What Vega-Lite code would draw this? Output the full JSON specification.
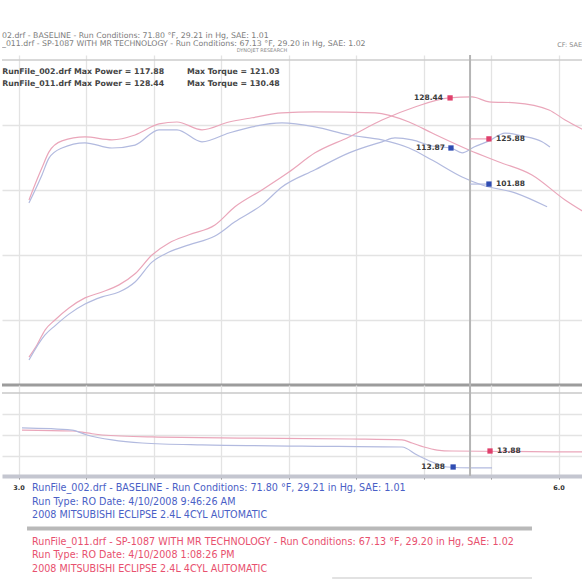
{
  "$schema": "https://vega.github.io/schema/vega-lite/v6.json",
  "background": "white",
  "padding": 0,
  "spacing": 0,
  "bounds": "flush",
  "config": {"view": {"stroke": null}, "font": "DejaVu Sans", "text": {"font": "DejaVu Sans"}},
  "datasets": {
    "header": [
      {"x": 2.906, "row": 0.8, "t": "02.drf - BASELINE - Run Conditions: 71.80 °F, 29.21 in Hg, SAE: 1.01"},
      {"x": 2.906, "row": 2.15, "t": "_011.drf - SP-1087 WITH MR TECHNOLOGY - Run Conditions: 67.13 °F, 29.20 in Hg, SAE: 1.02"}
    ],
    "headerCenter": [{"x": 4.35, "row": 3.05, "t": "DYNOJET RESEARCH"}],
    "headerRight": [{"x": 6.128, "row": 2.3, "t": "CF: SAE"}],
    "dyno": [
      {"rpm": 3.056, "v": 96.9, "s": "SP-1087 torque"}, {"rpm": 3.1, "v": 103.1, "s": "SP-1087 torque"}, {"rpm": 3.128, "v": 106.8, "s": "SP-1087 torque"}, {"rpm": 3.167, "v": 111.7, "s": "SP-1087 torque"}, {"rpm": 3.239, "v": 115.1, "s": "SP-1087 torque"}, {"rpm": 3.367, "v": 116.3, "s": "SP-1087 torque"}, {"rpm": 3.517, "v": 115.4, "s": "SP-1087 torque"}, {"rpm": 3.645, "v": 116.9, "s": "SP-1087 torque"}, {"rpm": 3.778, "v": 120.3, "s": "SP-1087 torque"}, {"rpm": 3.878, "v": 120.9, "s": "SP-1087 torque"}, {"rpm": 4.017, "v": 118.5, "s": "SP-1087 torque"}, {"rpm": 4.167, "v": 120.9, "s": "SP-1087 torque"}, {"rpm": 4.295, "v": 122.2, "s": "SP-1087 torque"}, {"rpm": 4.461, "v": 123.7, "s": "SP-1087 torque"}, {"rpm": 4.645, "v": 124.0, "s": "SP-1087 torque"}, {"rpm": 4.978, "v": 123.7, "s": "SP-1087 torque"}, {"rpm": 5.167, "v": 120.9, "s": "SP-1087 torque"}, {"rpm": 5.295, "v": 117.5, "s": "SP-1087 torque"}, {"rpm": 5.5, "v": 112.3, "s": "SP-1087 torque"}, {"rpm": 5.667, "v": 108.6, "s": "SP-1087 torque"}, {"rpm": 5.85, "v": 104.6, "s": "SP-1087 torque"}, {"rpm": 6.034, "v": 96.9, "s": "SP-1087 torque"}, {"rpm": 6.139, "v": 93.2, "s": "SP-1087 torque"},
      {"rpm": 3.056, "v": 96.0, "s": "Baseline torque"}, {"rpm": 3.128, "v": 104.6, "s": "Baseline torque"}, {"rpm": 3.167, "v": 109.8, "s": "Baseline torque"}, {"rpm": 3.239, "v": 112.9, "s": "Baseline torque"}, {"rpm": 3.367, "v": 114.5, "s": "Baseline torque"}, {"rpm": 3.517, "v": 112.9, "s": "Baseline torque"}, {"rpm": 3.645, "v": 113.8, "s": "Baseline torque"}, {"rpm": 3.778, "v": 118.5, "s": "Baseline torque"}, {"rpm": 3.878, "v": 118.5, "s": "Baseline torque"}, {"rpm": 4.017, "v": 114.8, "s": "Baseline torque"}, {"rpm": 4.167, "v": 117.5, "s": "Baseline torque"}, {"rpm": 4.295, "v": 119.4, "s": "Baseline torque"}, {"rpm": 4.461, "v": 120.6, "s": "Baseline torque"}, {"rpm": 4.645, "v": 119.4, "s": "Baseline torque"}, {"rpm": 4.834, "v": 116.9, "s": "Baseline torque"}, {"rpm": 5.017, "v": 115.4, "s": "Baseline torque"}, {"rpm": 5.167, "v": 112.9, "s": "Baseline torque"}, {"rpm": 5.295, "v": 109.2, "s": "Baseline torque"}, {"rpm": 5.462, "v": 104.0, "s": "Baseline torque"}, {"rpm": 5.573, "v": 101.5, "s": "Baseline torque"}, {"rpm": 5.756, "v": 99.1, "s": "Baseline torque"}, {"rpm": 5.934, "v": 94.8, "s": "Baseline torque"},
      {"rpm": 3.056, "v": 48.6, "s": "SP-1087 power"}, {"rpm": 3.1, "v": 52.3, "s": "SP-1087 power"}, {"rpm": 3.145, "v": 56.9, "s": "SP-1087 power"}, {"rpm": 3.2, "v": 60.0, "s": "SP-1087 power"}, {"rpm": 3.278, "v": 63.7, "s": "SP-1087 power"}, {"rpm": 3.367, "v": 66.8, "s": "SP-1087 power"}, {"rpm": 3.462, "v": 68.6, "s": "SP-1087 power"}, {"rpm": 3.556, "v": 70.8, "s": "SP-1087 power"}, {"rpm": 3.645, "v": 74.2, "s": "SP-1087 power"}, {"rpm": 3.739, "v": 80.0, "s": "SP-1087 power"}, {"rpm": 3.834, "v": 83.7, "s": "SP-1087 power"}, {"rpm": 3.945, "v": 86.2, "s": "SP-1087 power"}, {"rpm": 4.089, "v": 89.2, "s": "SP-1087 power"}, {"rpm": 4.2, "v": 94.8, "s": "SP-1087 power"}, {"rpm": 4.35, "v": 100.0, "s": "SP-1087 power"}, {"rpm": 4.5, "v": 105.5, "s": "SP-1087 power"}, {"rpm": 4.645, "v": 111.4, "s": "SP-1087 power"}, {"rpm": 4.834, "v": 116.3, "s": "SP-1087 power"}, {"rpm": 5.017, "v": 121.5, "s": "SP-1087 power"}, {"rpm": 5.2, "v": 125.5, "s": "SP-1087 power"}, {"rpm": 5.389, "v": 128.3, "s": "SP-1087 power"}, {"rpm": 5.517, "v": 128.6, "s": "SP-1087 power"}, {"rpm": 5.612, "v": 127.1, "s": "SP-1087 power"}, {"rpm": 5.756, "v": 126.8, "s": "SP-1087 power"}, {"rpm": 5.945, "v": 124.6, "s": "SP-1087 power"}, {"rpm": 6.034, "v": 121.5, "s": "SP-1087 power"}, {"rpm": 6.139, "v": 118.4, "s": "SP-1087 power"},
      {"rpm": 3.056, "v": 47.7, "s": "Baseline power"}, {"rpm": 3.145, "v": 55.4, "s": "Baseline power"}, {"rpm": 3.2, "v": 58.2, "s": "Baseline power"}, {"rpm": 3.278, "v": 61.8, "s": "Baseline power"}, {"rpm": 3.367, "v": 64.9, "s": "Baseline power"}, {"rpm": 3.462, "v": 67.1, "s": "Baseline power"}, {"rpm": 3.556, "v": 68.6, "s": "Baseline power"}, {"rpm": 3.645, "v": 71.7, "s": "Baseline power"}, {"rpm": 3.739, "v": 77.8, "s": "Baseline power"}, {"rpm": 3.834, "v": 80.9, "s": "Baseline power"}, {"rpm": 3.945, "v": 83.1, "s": "Baseline power"}, {"rpm": 4.089, "v": 85.8, "s": "Baseline power"}, {"rpm": 4.2, "v": 90.2, "s": "Baseline power"}, {"rpm": 4.35, "v": 95.4, "s": "Baseline power"}, {"rpm": 4.461, "v": 100.9, "s": "Baseline power"}, {"rpm": 4.645, "v": 106.2, "s": "Baseline power"}, {"rpm": 4.834, "v": 111.4, "s": "Baseline power"}, {"rpm": 5.017, "v": 114.8, "s": "Baseline power"}, {"rpm": 5.089, "v": 116.0, "s": "Baseline power"}, {"rpm": 5.184, "v": 115.4, "s": "Baseline power"}, {"rpm": 5.295, "v": 113.5, "s": "Baseline power"}, {"rpm": 5.4, "v": 112.9, "s": "Baseline power"}, {"rpm": 5.462, "v": 111.4, "s": "Baseline power"}, {"rpm": 5.528, "v": 113.2, "s": "Baseline power"}, {"rpm": 5.612, "v": 115.1, "s": "Baseline power"}, {"rpm": 5.7, "v": 117.5, "s": "Baseline power"}, {"rpm": 5.795, "v": 116.6, "s": "Baseline power"}, {"rpm": 5.906, "v": 114.8, "s": "Baseline power"}, {"rpm": 5.95, "v": 113.2, "s": "Baseline power"}
    ],
    "conn": [
      {"rpm": 5.506, "rpm2": 5.6, "v": 115.7, "s": "SP-1087 torque"},
      {"rpm": 5.506, "rpm2": 5.6, "v": 101.8, "s": "Baseline torque"}
    ],
    "ann": [
      {"rpm": 5.395, "lx": 5.356, "v": 128.3, "label": "128.44", "run": "SP-1087", "side": "left"},
      {"rpm": 5.4, "lx": 5.367, "v": 112.9, "label": "113.87", "run": "Baseline", "side": "left"},
      {"rpm": 5.611, "lx": 5.65, "v": 115.7, "label": "125.88", "run": "SP-1087", "side": "right"},
      {"rpm": 5.611, "lx": 5.65, "v": 101.8, "label": "101.88", "run": "Baseline", "side": "right"}
    ],
    "legendText": [
      {"x": 2.907, "v": 136.3, "t": "RunFile_002.drf Max Power = 117.88"},
      {"x": 3.934, "v": 136.3, "t": "Max Torque = 121.03"},
      {"x": 2.907, "v": 132.6, "t": "RunFile_011.drf Max Power = 128.44"},
      {"x": 3.934, "v": 132.6, "t": "Max Torque = 130.48"}
    ],
    "afr": [
      {"rpm": 3.017, "a": 15.19, "s": "SP-1087"}, {"rpm": 3.295, "a": 15.13, "s": "SP-1087"}, {"rpm": 3.378, "a": 15.01, "s": "SP-1087"}, {"rpm": 3.462, "a": 14.88, "s": "SP-1087"}, {"rpm": 3.739, "a": 14.76, "s": "SP-1087"}, {"rpm": 4.295, "a": 14.69, "s": "SP-1087"}, {"rpm": 4.85, "a": 14.63, "s": "SP-1087"}, {"rpm": 5.128, "a": 14.57, "s": "SP-1087"}, {"rpm": 5.184, "a": 14.38, "s": "SP-1087"}, {"rpm": 5.25, "a": 14.13, "s": "SP-1087"}, {"rpm": 5.323, "a": 13.94, "s": "SP-1087"}, {"rpm": 5.406, "a": 13.88, "s": "SP-1087"}, {"rpm": 6.139, "a": 13.82, "s": "SP-1087"},
      {"rpm": 3.017, "a": 15.32, "s": "Baseline"}, {"rpm": 3.295, "a": 15.19, "s": "Baseline"}, {"rpm": 3.378, "a": 14.88, "s": "Baseline"}, {"rpm": 3.517, "a": 14.57, "s": "Baseline"}, {"rpm": 3.684, "a": 14.38, "s": "Baseline"}, {"rpm": 4.017, "a": 14.26, "s": "Baseline"}, {"rpm": 4.573, "a": 14.19, "s": "Baseline"}, {"rpm": 5.128, "a": 14.13, "s": "Baseline"}, {"rpm": 5.212, "a": 13.63, "s": "Baseline"}, {"rpm": 5.295, "a": 13.19, "s": "Baseline"}, {"rpm": 5.378, "a": 12.88, "s": "Baseline"}, {"rpm": 5.517, "a": 12.82, "s": "Baseline"}, {"rpm": 5.628, "a": 12.82, "s": "Baseline"}
    ],
    "afrAnn": [
      {"rpm": 5.617, "lx": 5.656, "a": 13.88, "label": "13.88", "run": "SP-1087", "side": "right"},
      {"rpm": 5.412, "lx": 5.367, "a": 12.88, "label": "12.88", "run": "Baseline", "side": "left"}
    ],
    "footer": [
      {"x": 3.073, "row": 1, "run": "Baseline", "t": "RunFile_002.drf - BASELINE - Run Conditions: 71.80 °F, 29.21 in Hg, SAE: 1.01"},
      {"x": 3.073, "row": 2, "run": "Baseline", "t": "Run Type: RO  Date: 4/10/2008 9:46:26 AM"},
      {"x": 3.073, "row": 3, "run": "Baseline", "t": "2008 MITSUBISHI ECLIPSE 2.4L 4CYL AUTOMATIC"},
      {"x": 3.073, "row": 5, "run": "SP-1087", "t": "RunFile_011.drf - SP-1087 WITH MR TECHNOLOGY - Run Conditions: 67.13 °F, 29.20 in Hg, SAE: 1.02"},
      {"x": 3.073, "row": 6, "run": "SP-1087", "t": "Run Type: RO  Date: 4/10/2008 1:08:26 PM"},
      {"x": 3.073, "row": 7, "run": "SP-1087", "t": "2008 MITSUBISHI ECLIPSE 2.4L 4CYL AUTOMATIC"}
    ],
    "xlabels": [{"x": 3.0, "row": 1, "t": "3.0"}, {"x": 6.0, "row": 1, "t": "6.0"}],
    "sep": [{"x": 3.045, "x2": 5.85, "row": 4, "w": "thick"}, {"x": 4.74, "x2": 5.85, "row": 7.67, "w": "thin"}]
  },
  "vconcat": [
    {
      "width": 582, "height": 55,
      "encoding": {
        "x": {"field": "x", "type": "quantitative", "scale": {"domain": [2.906, 6.139], "nice": false, "zero": false}, "axis": null},
        "y": {"field": "row", "type": "quantitative", "scale": {"domain": [-4.692, 3.769], "reverse": true, "nice": false, "zero": false}, "axis": null},
        "text": {"field": "t"}
      },
      "layer": [
        {"data": {"name": "header"}, "mark": {"type": "text", "clip": true, "align": "left", "baseline": "middle", "fontSize": 7.8, "color": "#7d7d7d"}},
        {"data": {"name": "headerCenter"}, "mark": {"type": "text", "align": "center", "baseline": "middle", "fontSize": 5, "color": "#8a8a8a"}},
        {"data": {"name": "headerRight"}, "mark": {"type": "text", "align": "right", "baseline": "middle", "fontSize": 6.5, "color": "#8a8a8a"}}
      ]
    },
    {
      "width": 582, "height": 330,
      "layer": [
        {
          "data": {"name": "dyno"},
          "mark": {"type": "line", "strokeWidth": 1.2, "interpolate": "monotone"},
          "encoding": {
            "x": {"field": "rpm", "type": "quantitative", "scale": {"domain": [2.906, 6.139], "nice": false, "zero": false},
                  "axis": {"values": [3, 3.375, 3.75, 4.125, 4.5, 4.875, 5.25, 5.625, 6], "grid": true, "gridColor": "#e3e3e3", "gridWidth": 1.3, "labels": false, "ticks": false, "domain": false, "title": null}},
            "y": {"field": "v", "type": "quantitative", "scale": {"domain": [40, 141.5], "nice": false, "zero": false},
                  "axis": {"values": [60, 80, 100, 120], "grid": true, "gridColor": "#e3e3e3", "gridWidth": 1.3, "labels": false, "ticks": false, "domain": false, "title": null}},
            "color": {"field": "s", "type": "nominal", "scale": {"domain": ["SP-1087 torque", "Baseline torque", "SP-1087 power", "Baseline power"], "range": ["#eaa6ba", "#b2badf", "#eaa6ba", "#b2badf"]}, "legend": null}
          }
        },
        {"data": {"values": [{}]}, "mark": {"type": "rule", "color": "#cdcdcd", "strokeWidth": 1.5}, "encoding": {"y": {"datum": 140}}},
        {"data": {"values": [{}]}, "mark": {"type": "rule", "color": "#9c9c9c", "strokeWidth": 3}, "encoding": {"y": {"datum": 40}}},
        {"data": {"values": [{}]}, "mark": {"type": "rule", "color": "#b5b5b5", "strokeWidth": 2}, "encoding": {"x": {"datum": 5.506}}},
        {
          "data": {"name": "conn"},
          "mark": {"type": "rule", "strokeWidth": 1.2},
          "encoding": {"x": {"field": "rpm", "type": "quantitative"}, "x2": {"field": "rpm2"}, "y": {"field": "v", "type": "quantitative"}, "color": {"field": "s", "type": "nominal"}}
        },
        {
          "data": {"name": "ann"}, "transform": [{"filter": "datum.run == 'SP-1087'"}],
          "mark": {"type": "point", "shape": "square", "filled": true, "size": 28, "color": "#e0406c", "opacity": 1},
          "encoding": {"x": {"field": "rpm", "type": "quantitative"}, "y": {"field": "v", "type": "quantitative"}}
        },
        {
          "data": {"name": "ann"}, "transform": [{"filter": "datum.run == 'Baseline'"}],
          "mark": {"type": "point", "shape": "square", "filled": true, "size": 28, "color": "#2f4cb2", "opacity": 1},
          "encoding": {"x": {"field": "rpm", "type": "quantitative"}, "y": {"field": "v", "type": "quantitative"}}
        },
        {
          "data": {"name": "ann"}, "transform": [{"filter": "datum.side == 'left'"}],
          "mark": {"type": "text", "align": "right", "baseline": "middle", "fontSize": 7.5, "fontWeight": "bold", "color": "#3a3a3a"},
          "encoding": {"x": {"field": "lx", "type": "quantitative"}, "y": {"field": "v", "type": "quantitative"}, "text": {"field": "label"}}
        },
        {
          "data": {"name": "ann"}, "transform": [{"filter": "datum.side == 'right'"}],
          "mark": {"type": "text", "align": "left", "baseline": "middle", "fontSize": 7.5, "fontWeight": "bold", "color": "#3a3a3a"},
          "encoding": {"x": {"field": "lx", "type": "quantitative"}, "y": {"field": "v", "type": "quantitative"}, "text": {"field": "label"}}
        },
        {
          "data": {"name": "legendText"},
          "mark": {"type": "text", "align": "left", "baseline": "middle", "fontSize": 7.8, "fontWeight": "bold", "color": "#444444"},
          "encoding": {"x": {"field": "x", "type": "quantitative"}, "y": {"field": "v", "type": "quantitative"}, "text": {"field": "t"}}
        }
      ]
    },
    {
      "width": 582, "height": 91,
      "layer": [
        {
          "data": {"name": "afr"},
          "mark": {"type": "line", "strokeWidth": 1.2, "interpolate": "monotone"},
          "encoding": {
            "x": {"field": "rpm", "type": "quantitative", "scale": {"domain": [2.906, 6.139], "nice": false, "zero": false},
                  "axis": {"values": [3, 3.375, 3.75, 4.125, 4.5, 4.875, 5.25, 5.625, 6], "grid": true, "gridColor": "#e3e3e3", "gridWidth": 1.3, "labels": false, "ticks": true, "tickColor": "#808080", "tickSize": 3, "domain": true, "domainColor": "#c4c6d0", "domainWidth": 4, "title": null}},
            "y": {"field": "a", "type": "quantitative", "scale": {"domain": [12.3175, 18.005], "nice": false, "zero": false},
                  "axis": {"values": [13.57, 14.88, 16.19], "grid": true, "gridColor": "#e3e3e3", "gridWidth": 1.3, "labels": false, "ticks": false, "domain": false, "title": null}},
            "color": {"field": "s", "type": "nominal", "scale": {"domain": ["SP-1087", "Baseline"], "range": ["#eaa6ba", "#b2badf"]}, "legend": null}
          }
        },
        {"data": {"values": [{}]}, "mark": {"type": "rule", "color": "#c8c8c8", "strokeWidth": 1.5}, "encoding": {"y": {"datum": 17.5}}},
        {"data": {"values": [{}]}, "mark": {"type": "rule", "color": "#b5b5b5", "strokeWidth": 2}, "encoding": {"x": {"datum": 5.506}}},
        {
          "data": {"name": "afrAnn"}, "transform": [{"filter": "datum.run == 'SP-1087'"}],
          "mark": {"type": "point", "shape": "square", "filled": true, "size": 28, "color": "#e0406c", "opacity": 1},
          "encoding": {"x": {"field": "rpm", "type": "quantitative"}, "y": {"field": "a", "type": "quantitative"}}
        },
        {
          "data": {"name": "afrAnn"}, "transform": [{"filter": "datum.run == 'Baseline'"}],
          "mark": {"type": "point", "shape": "square", "filled": true, "size": 28, "color": "#2f4cb2", "opacity": 1},
          "encoding": {"x": {"field": "rpm", "type": "quantitative"}, "y": {"field": "a", "type": "quantitative"}}
        },
        {
          "data": {"name": "afrAnn"}, "transform": [{"filter": "datum.side == 'left'"}],
          "mark": {"type": "text", "align": "right", "baseline": "middle", "fontSize": 7.5, "fontWeight": "bold", "color": "#3a3a3a"},
          "encoding": {"x": {"field": "lx", "type": "quantitative"}, "y": {"field": "a", "type": "quantitative"}, "text": {"field": "label"}}
        },
        {
          "data": {"name": "afrAnn"}, "transform": [{"filter": "datum.side == 'right'"}],
          "mark": {"type": "text", "align": "left", "baseline": "middle", "fontSize": 7.5, "fontWeight": "bold", "color": "#3a3a3a"},
          "encoding": {"x": {"field": "lx", "type": "quantitative"}, "y": {"field": "a", "type": "quantitative"}, "text": {"field": "label"}}
        }
      ]
    },
    {
      "width": 582, "height": 106,
      "encoding": {
        "x": {"field": "x", "type": "quantitative", "scale": {"domain": [2.906, 6.139], "nice": false, "zero": false}, "axis": null},
        "y": {"field": "row", "type": "quantitative", "scale": {"domain": [0.1111, 7.963], "reverse": true, "nice": false, "zero": false}, "axis": null}
      },
      "layer": [
        {"data": {"name": "footer"}, "transform": [{"filter": "datum.run == 'Baseline'"}], "mark": {"type": "text", "align": "left", "baseline": "middle", "fontSize": 9.6, "color": "#4a60c6"}, "encoding": {"text": {"field": "t"}}},
        {"data": {"name": "footer"}, "transform": [{"filter": "datum.run == 'SP-1087'"}], "mark": {"type": "text", "align": "left", "baseline": "middle", "fontSize": 9.6, "color": "#e8506e"}, "encoding": {"text": {"field": "t"}}},
        {"data": {"name": "xlabels"}, "mark": {"type": "text", "align": "center", "baseline": "middle", "fontSize": 6.5, "fontWeight": "bold", "color": "#333333"}, "encoding": {"text": {"field": "t"}}},
        {"data": {"name": "sep"}, "transform": [{"filter": "datum.w == 'thick'"}], "mark": {"type": "rule", "color": "#b9b9b9", "strokeWidth": 4}, "encoding": {"x2": {"field": "x2"}}},
        {"data": {"name": "sep"}, "transform": [{"filter": "datum.w == 'thin'"}], "mark": {"type": "rule", "color": "#e2e2e2", "strokeWidth": 2}, "encoding": {"x2": {"field": "x2"}}}
      ]
    }
  ]
}
